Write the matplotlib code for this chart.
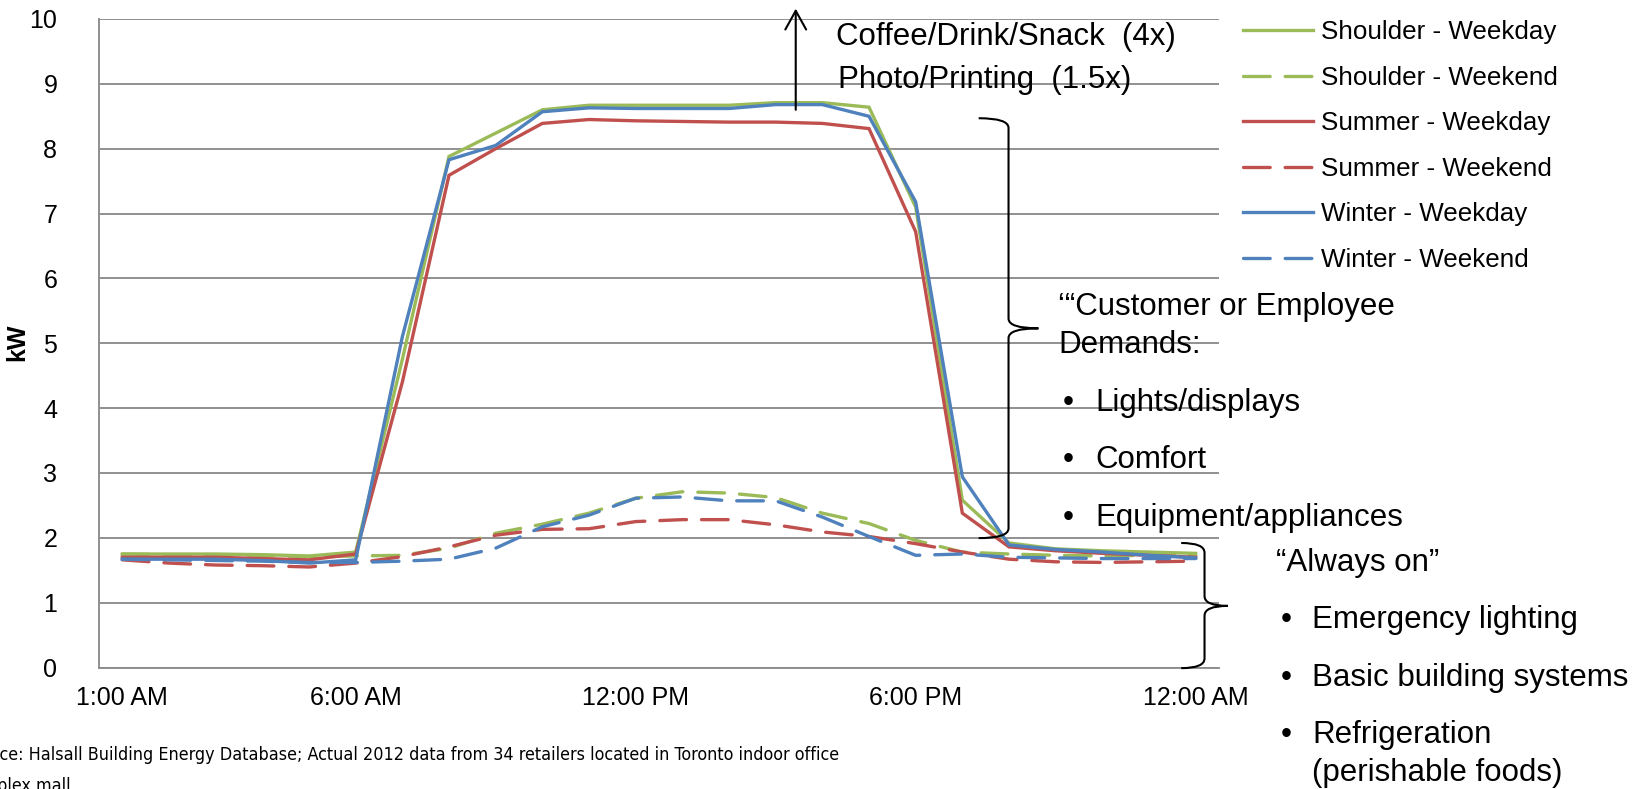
import os

import matplotlib

matplotlib.use("Agg")
import matplotlib.pyplot as plt
from matplotlib import font_manager
from matplotlib.patches import FancyArrowPatch, PathPatch
from matplotlib.path import Path

plt.rcParams["font.family"] = ["Liberation Sans", "DejaVu Sans"]

# hourly profile, 1:00 AM through midnight
HOURS = [
    "1:00 AM", "2:00 AM", "3:00 AM", "4:00 AM", "5:00 AM", "6:00 AM",
    "7:00 AM", "8:00 AM", "9:00 AM", "10:00 AM", "11:00 AM", "12:00 PM",
    "1:00 PM", "2:00 PM", "3:00 PM", "4:00 PM", "5:00 PM", "6:00 PM",
    "7:00 PM", "8:00 PM", "9:00 PM", "10:00 PM", "11:00 PM", "12:00 AM",
]
TICK_HOURS = ["1:00 AM", "6:00 AM", "12:00 PM", "6:00 PM", "12:00 AM"]

shoulder_weekday = [1.75, 1.75, 1.75, 1.74, 1.72, 1.78, 4.75, 7.88, 8.24, 8.60, 8.67, 8.67,
                    8.67, 8.67, 8.71, 8.71, 8.64, 7.10, 2.58, 1.92, 1.83, 1.80, 1.78, 1.76]
shoulder_weekend = [1.75, 1.74, 1.74, 1.73, 1.71, 1.72, 1.73, 1.84, 2.07, 2.21, 2.38, 2.61,
                    2.71, 2.69, 2.62, 2.38, 2.22, 1.96, 1.78, 1.75, 1.73, 1.72, 1.73, 1.73]
summer_weekday = [1.70, 1.70, 1.70, 1.68, 1.66, 1.75, 4.40, 7.59, 8.00, 8.39, 8.45, 8.43,
                  8.42, 8.41, 8.41, 8.39, 8.31, 6.72, 2.38, 1.86, 1.80, 1.76, 1.73, 1.70]
summer_weekend = [1.66, 1.61, 1.58, 1.57, 1.55, 1.61, 1.71, 1.86, 2.04, 2.13, 2.14, 2.25,
                  2.28, 2.28, 2.20, 2.09, 2.02, 1.91, 1.78, 1.67, 1.63, 1.62, 1.63, 1.64]
winter_weekday = [1.67, 1.67, 1.67, 1.65, 1.61, 1.66, 5.10, 7.83, 8.05, 8.57, 8.63, 8.62,
                  8.62, 8.62, 8.68, 8.68, 8.50, 7.18, 2.94, 1.89, 1.82, 1.78, 1.73, 1.69]
winter_weekend = [1.67, 1.66, 1.65, 1.64, 1.62, 1.62, 1.64, 1.67, 1.84, 2.17, 2.35, 2.61,
                  2.63, 2.57, 2.57, 2.32, 2.02, 1.73, 1.75, 1.70, 1.69, 1.68, 1.68, 1.68]

SERIES_LABELS = ["Shoulder - Weekday", "Shoulder - Weekend", "Summer - Weekday",
                 "Summer - Weekend", "Winter - Weekday", "Winter - Weekend"]
SERIES_VALUES = [shoulder_weekday, shoulder_weekend, summer_weekday,
                 summer_weekend, winter_weekday, winter_weekend]

SOURCE_LINE = ("Source: Halsall Building Energy Database; Actual 2012 data from 34 retailers "
               "located in Toronto indoor office")
SOURCE_LINE2 = "complex mall"

GREEN, RED, BLUE = "#9BBB59", "#C0504D", "#4F81BD"
STYLES = [(GREEN, False), (GREEN, True), (RED, False), (RED, True), (BLUE, False), (BLUE, True)]
GRID = "#8C8C8C"

W, H = 1650, 789
fig = plt.figure(figsize=(11, 5.26), dpi=150)


def px(x, y):
    """figure pixel (from top-left) -> figure fraction"""
    return x / W, 1 - y / H


ax = fig.add_axes([99 / W, 1 - 667.5 / H, 1120 / W, 648.5 / H])

x = list(range(len(HOURS)))
handles = []
for label, vals, (color, dashed) in zip(SERIES_LABELS, SERIES_VALUES, STYLES):
    (ln,) = ax.plot(x, vals, color=color, lw=1.6, label=label,
                    dashes=(8, 4.5) if dashed else (None, None),
                    solid_joinstyle="miter")
    if dashed:
        ln.set_dash_capstyle("round")
    handles.append(ln)

ax.set_xlim(-0.5, len(HOURS) - 0.5)
ax.set_ylim(0, 10)
ax.set_yticks(range(0, 11))
ax.set_xticks([HOURS.index(h) for h in TICK_HOURS])
ax.set_xticklabels(TICK_HOURS)
ax.tick_params(axis="both", length=0, labelsize=12)
ax.tick_params(axis="y", pad=20)
ax.tick_params(axis="x", pad=9)
ax.yaxis.grid(True, color=GRID, lw=0.9)
ax.set_axisbelow(True)
for side in ("top", "right"):
    ax.spines[side].set_visible(False)
for side in ("left", "bottom"):
    ax.spines[side].set_color(GRID)
    ax.spines[side].set_linewidth(0.9)

ax.set_ylabel("kW", fontsize=12, fontweight="bold", va="center")
ax.yaxis.set_label_coords(*px(17, 342), transform=fig.transFigure)

fig.legend(handles, SERIES_LABELS, loc="upper left", bbox_to_anchor=px(1243, 20),
           frameon=False, fontsize=12.5, handlelength=2.7, handletextpad=0.3,
           labelspacing=0.83, borderpad=0, borderaxespad=0)


def brace(x0, y_top, y_bot, y_tip, w, r):
    """right-facing curly brace drawn at data x0, hooks reaching w to the left"""
    verts = [
        (x0 - w, y_top), (x0, y_top), (x0, y_top - r),
        (x0, y_tip + r),
        (x0, y_tip), (x0 + w, y_tip),
        (x0, y_tip), (x0, y_tip - r),
        (x0, y_bot + r),
        (x0, y_bot), (x0 - w, y_bot),
    ]
    codes = [Path.MOVETO, Path.CURVE3, Path.CURVE3, Path.LINETO,
             Path.CURVE3, Path.CURVE3, Path.CURVE3, Path.CURVE3,
             Path.LINETO, Path.CURVE3, Path.CURVE3]
    ax.add_patch(PathPatch(Path(verts, codes), fill=False, lw=1.0, color="black",
                           clip_on=False, zorder=5))


brace(18.99, 8.47, 1.995, 5.23, 0.64, 0.15)
brace(23.19, 1.92, -0.01, 0.95, 0.5, 0.15)

ax.add_patch(FancyArrowPatch((14.43, 8.6), (14.43, 10.16), clip_on=False, color="black",
                             lw=1.0, arrowstyle="->, head_length=0.45, head_width=0.25",
                             mutation_scale=20, shrinkA=0, shrinkB=0, zorder=5))

NOTE = 15
notes = [
    ("Coffee/Drink/Snack  (4x)", 836, 37),
    ("Photo/Printing  (1.5x)", 838, 80),
    ("\u2018\u201cCustomer or Employee", 1058, 307),
    ("Demands:", 1058, 345),
    ("\u201cAlways on\u201d", 1276, 563),
    ("(perishable foods)", 1312, 773),
]
for text, tx, ty in notes:
    fig.text(*px(tx, ty), text, fontsize=NOTE, va="center", ha="left")

bullets = [
    ("Lights/displays", 1063, 1095, 403),
    ("Comfort", 1063, 1095, 460),
    ("Equipment/appliances", 1063, 1095, 518),
    ("Emergency lighting", 1281, 1312, 620),
    ("Basic building systems", 1281, 1312, 678),
    ("Refrigeration", 1281, 1312, 735),
]
for text, bx, tx, ty in bullets:
    fig.text(*px(bx, ty), "\u2022", fontsize=NOTE, va="center", ha="left")
    fig.text(*px(tx, ty), text, fontsize=NOTE, va="center", ha="left")


# source note: narrow face if one is installed, sized so the line ends at x=842 px
def _narrow_font():
    skip = ("Bold", "Italic", "Oblique", "Light", "Medium", "Black", "Thin", "Semi", "Extra")
    found = []
    for f in font_manager.fontManager.ttflist:
        base = os.path.basename(f.fname)
        if ("Narrow" in base or "Condensed" in base) and not any(k in base for k in skip):
            found.append(f.fname)
    found.sort(key=lambda p: ("Liberation" not in p, "Arial" not in p, p))
    if found:
        return font_manager.FontProperties(fname=found[0])
    return font_manager.FontProperties(family="Liberation Sans")


src_prop = _narrow_font()
renderer = fig.canvas.get_renderer()


def _width(s, size):
    t = fig.text(0, 0, s, fontproperties=src_prop, fontsize=size)
    w = t.get_window_extent(renderer).width
    t.remove()
    return w


hidden = "Sour"
size = 10 * 842 / (_width(SOURCE_LINE, 10) - _width(hidden, 10))
size = min(size, 11.5)
src_x = -_width(hidden, size) / W
fig.text(src_x, 1 - 755 / H, SOURCE_LINE, ha="left", va="center",
         fontproperties=src_prop, fontsize=size)
fig.text(src_x, 1 - 786 / H, SOURCE_LINE2, ha="left", va="center",
         fontproperties=src_prop, fontsize=size)

fig.savefig("out.png", dpi=150, facecolor="white")
